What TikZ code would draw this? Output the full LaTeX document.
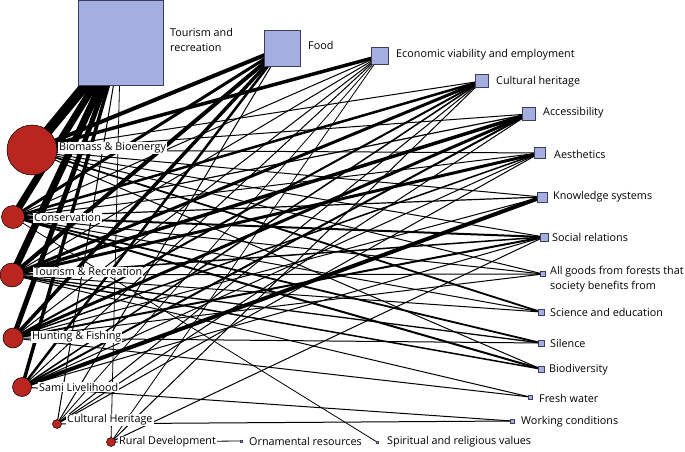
\documentclass[tikz,border=0pt]{standalone}
\usepackage{fontspec}
\setmainfont{Open Sans}
\usetikzlibrary{backgrounds}
\definecolor{usered}{HTML}{B8261F}
\definecolor{servblue}{HTML}{A4AEE0}
\definecolor{servedge}{HTML}{3C3F5C}
\tikzset{
  use/.style={circle,draw=black,line width=0.5pt,fill=usered,inner sep=0pt,minimum size=#1},
  serv/.style={rectangle,draw=servedge,line width=0.6pt,fill=servblue,inner sep=0pt,minimum size=#1},
  ulbl/.style={anchor=west,fill=white,inner sep=1pt,font=\fontsize{10.8}{12}\selectfont},
  slbl/.style={anchor=west,inner sep=0pt,align=left,font=\fontsize{10.8}{15}\selectfont},
  link/.style={draw=black,line width=#1}
}
\begin{document}
\begin{tikzpicture}[x=1pt,y=-1pt]
\useasboundingbox (0,0) rectangle (685,452);
% services
\node[serv=85pt] (tour) at (120.5,43) {};
\node[serv=36pt] (food) at (282,48) {};
\node[serv=17pt] (econ) at (380,56) {};
\node[serv=13pt] (cult) at (482,81) {};
\node[serv=13pt] (acc) at (529,114) {};
\node[serv=11pt] (aes) at (540,153) {};
\node[serv=10pt] (know) at (542,197) {};
\node[serv=8pt] (soc) at (544,237) {};
\node[serv=5pt] (goods) at (543,274) {};
\node[serv=6pt] (sci) at (541,312) {};
\node[serv=6pt] (sil) at (541,343) {};
\node[serv=6pt] (biod) at (541,369) {};
\node[serv=4pt] (fresh) at (530,397) {};
\node[serv=4pt] (work) at (512,421) {};
\node[serv=2pt] (spir) at (377,442) {};
\node[serv=2pt] (orn) at (241,441) {};
% uses
\node[use=50pt] (bio) at (32,150) {};
\node[use=23pt] (con) at (13,217) {};
\node[use=24pt] (tr) at (12,275) {};
\node[use=20pt] (hf) at (13,338) {};
\node[use=19pt] (sami) at (22,387) {};
\node[use=9pt] (ch) at (57,424) {};
\node[use=9pt] (rd) at (111,442) {};
% links
\begin{scope}[on background layer]
\foreach \a/\b/\w in {
 bio/tour/10, con/tour/7, tr/tour/7, hf/tour/5, sami/tour/3.5, ch/tour/1, rd/tour/0.8, bio/tour/1.2,
 bio/food/4, con/food/3, tr/food/4, hf/food/3.5, sami/food/2.5, ch/food/1, bio/food/1,
 bio/econ/3.5, con/econ/1, tr/econ/1, hf/econ/1, sami/econ/1, ch/econ/0.8, rd/econ/0.8,
 bio/cult/1, con/cult/2.5, tr/cult/3, hf/cult/2, sami/cult/1.5, ch/cult/1, rd/cult/1,
 bio/acc/1, con/acc/1.2, tr/acc/3.5, hf/acc/3, sami/acc/2, ch/acc/1,
 bio/aes/1, con/aes/1, tr/aes/3, hf/aes/1.5, sami/aes/1, ch/aes/1,
 bio/know/1, con/know/1.2, hf/know/1, sami/know/4,
 bio/soc/1, con/soc/2, tr/soc/1.5, hf/soc/2, sami/soc/1, rd/soc/1,
 bio/goods/1, con/goods/1, tr/goods/1, hf/goods/1,
 bio/sci/1.8, con/sci/1, tr/sci/1,
 con/sil/1.8, tr/sil/1.3, hf/sil/1,
 bio/biod/1, con/biod/2, tr/biod/1.5,
 tr/fresh/1, hf/fresh/1,
 sami/work/1, ch/work/1,
 con/spir/0.8,
 rd/orn/0.8}
 \draw[link=\w pt] (\a.center) -- (\b.center);
\end{scope}
% use labels
\node[ulbl] (lbio) at (58,148) {Biomass \& Bioenergy};
\node[ulbl] (lcon) at (33,218) {Conservation};
\node[ulbl] (ltr) at (33,272) {Tourism \& Recreation};
\node[ulbl] (lhf) at (31,337) {Hunting \& Fishing};
\node[ulbl] (lsami) at (38,387) {Sami Livelihood};
\node[ulbl] (lch) at (66,420) {Cultural Heritage};
\node[ulbl] (lrd) at (118,442) {Rural Development};
% service labels
\node[slbl] (ltour) at (170,40) {Tourism and\\recreation};
\node[slbl] (lfood) at (308,45) {Food};
\node[slbl] (lecon) at (396,55) {Economic viability and employment};
\node[slbl] (lcult) at (496,82) {Cultural heritage};
\node[slbl] (lacc) at (543,113) {Accessibility};
\node[slbl] (laes) at (554,154) {Aesthetics};
\node[slbl] (lknow) at (553,197) {Knowledge systems};
\node[slbl] (lsoc) at (552,237) {Social relations};
\node[slbl] (lgoods) at (550,279) {All goods from forests that\\society benefits from};
\node[slbl] (lsci) at (550,312) {Science and education};
\node[slbl] (lsil) at (550,343) {Silence};
\node[slbl] (lbiod) at (549,370) {Biodiversity};
\node[slbl] (lfresh) at (539,398) {Fresh water};
\node[slbl] (lwork) at (521,422) {Working conditions};
\node[slbl] (lspir) at (387,442) {Spiritual and religious values};
\node[slbl] (lorn) at (249,441) {Ornamental resources};
\end{tikzpicture}
\end{document}
